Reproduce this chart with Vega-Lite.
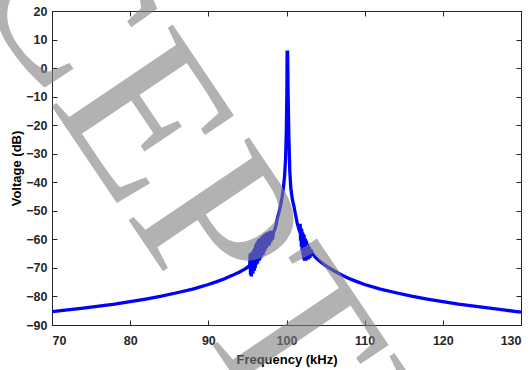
{
  "$schema": "https://vega.github.io/schema/vega-lite/v6.json",
  "width": 469,
  "height": 314,
  "autosize": {"type": "none"},
  "padding": {"left": 52, "top": 11, "right": 10, "bottom": 45},
  "background": "white",
  "config": {
    "view": {"stroke": "#262626", "strokeWidth": 1},
    "axis": {
      "labelFont": "Liberation Sans", "labelFontWeight": "bold", "labelFontSize": 12.5, "labelColor": "#262626",
      "titleFont": "Liberation Sans", "titleFontWeight": "bold", "titleFontSize": 13, "titleColor": "#000000",
      "domainColor": "#262626", "tickColor": "#262626", "tickSize": -5, "grid": false
    }
  },
  "datasets": {
    "curve": [
    {"f":70,"v":-85.3},{"f":72,"v":-84.7},{"f":74,"v":-84.1},{"f":76,"v":-83.4},{"f":78,"v":-82.7},
    {"f":80,"v":-81.8},{"f":82,"v":-80.9},{"f":84,"v":-79.9},{"f":86,"v":-78.7},{"f":88,"v":-77.4},
    {"f":90,"v":-75.8},{"f":91,"v":-74.9},{"f":92,"v":-73.9},{"f":93,"v":-72.7},{"f":94,"v":-71.4},
    {"f":94.6,"v":-70.5},{"f":95.0,"v":-69.8},{"f":95.3,"v":-69.0},
    {"f":95.35,"v":-65},{"f":95.4,"v":-72.5},{"f":95.45,"v":-66},{"f":95.5,"v":-73},{"f":95.55,"v":-64.5},
    {"f":95.6,"v":-71.5},{"f":95.65,"v":-65},{"f":95.7,"v":-72},{"f":95.75,"v":-64},{"f":95.8,"v":-70.5},
    {"f":95.85,"v":-63.5},{"f":95.9,"v":-71},{"f":95.95,"v":-63},{"f":96.0,"v":-70},{"f":96.05,"v":-62},
    {"f":96.1,"v":-69},{"f":96.15,"v":-61.5},{"f":96.2,"v":-68.5},{"f":96.25,"v":-61},{"f":96.3,"v":-68.5},
    {"f":96.35,"v":-60.5},{"f":96.4,"v":-67.5},{"f":96.45,"v":-60},{"f":96.5,"v":-67.5},{"f":96.55,"v":-60.5},
    {"f":96.6,"v":-67},{"f":96.65,"v":-59.5},{"f":96.7,"v":-66.5},{"f":96.75,"v":-60},{"f":96.8,"v":-66},
    {"f":96.85,"v":-59},{"f":96.9,"v":-65.5},{"f":96.95,"v":-59},{"f":97.0,"v":-65.5},{"f":97.05,"v":-58.5},
    {"f":97.1,"v":-64.5},{"f":97.15,"v":-58.5},{"f":97.2,"v":-64},{"f":97.25,"v":-58},{"f":97.3,"v":-63.5},
    {"f":97.35,"v":-58},{"f":97.4,"v":-63},{"f":97.5,"v":-57.5},{"f":97.6,"v":-62.5},{"f":97.7,"v":-57.5},
    {"f":97.8,"v":-62},{"f":97.9,"v":-57},{"f":98.0,"v":-61},{"f":98.1,"v":-57},{"f":98.2,"v":-60},
    {"f":98.35,"v":-57.5},{"f":98.5,"v":-56.5},{"f":98.66,"v":-55},{"f":98.8,"v":-53},
    {"f":99.0,"v":-51},{"f":99.25,"v":-48},{"f":99.45,"v":-45},{"f":99.6,"v":-42},{"f":99.75,"v":-38},
    {"f":99.88,"v":-32},{"f":99.98,"v":-22},{"f":100.05,"v":-8},{"f":100.08,"v":5.6},{"f":100.14,"v":5.6},
    {"f":100.2,"v":-8},{"f":100.3,"v":-24},{"f":100.42,"v":-36},{"f":100.55,"v":-42},{"f":100.75,"v":-46},
    {"f":100.96,"v":-48.5},{"f":101.2,"v":-52},{"f":101.38,"v":-54.4},{"f":101.6,"v":-56.5},
    {"f":101.7,"v":-57.5},{"f":101.75,"v":-54.5},{"f":101.8,"v":-60.5},{"f":101.85,"v":-56},{"f":101.9,"v":-62.5},
    {"f":101.95,"v":-56.5},{"f":102.0,"v":-64},{"f":102.05,"v":-57.5},{"f":102.1,"v":-65.5},{"f":102.15,"v":-58},
    {"f":102.2,"v":-67},{"f":102.25,"v":-58.5},{"f":102.3,"v":-67.5},{"f":102.35,"v":-59.5},{"f":102.4,"v":-66.5},
    {"f":102.45,"v":-60},{"f":102.5,"v":-67.5},{"f":102.55,"v":-60.5},{"f":102.6,"v":-66.5},{"f":102.7,"v":-61.5},
    {"f":102.8,"v":-67},{"f":102.9,"v":-62.5},{"f":103.0,"v":-66.5},{"f":103.1,"v":-63.5},{"f":103.3,"v":-64.8},
    {"f":103.6,"v":-66},{"f":104,"v":-67.1},{"f":104.5,"v":-68.2},{"f":105,"v":-69.2},{"f":106,"v":-70.9},
    {"f":107,"v":-72.4},{"f":108,"v":-73.7},{"f":109,"v":-74.8},{"f":110,"v":-75.8},{"f":112,"v":-77.4},
    {"f":114,"v":-78.7},{"f":116,"v":-79.9},{"f":118,"v":-80.9},{"f":120,"v":-81.8},{"f":122,"v":-82.7},
    {"f":124,"v":-83.4},{"f":126,"v":-84.1},{"f":128,"v":-84.8},{"f":130,"v":-85.5}
    ],
    "mark": [{"label": "watermark"}]
  },
  "resolve": {"axis": {"x": "independent", "y": "independent"}},
  "layer": [
    {
      "data": {"name": "curve"},
      "mark": {"type": "line", "color": "#0000ff", "strokeWidth": 3.3, "clip": true},
      "encoding": {
        "x": {"field": "f", "type": "quantitative", "sort": null,
              "scale": {"domain": [70, 130], "nice": false, "zero": false},
              "axis": {"title": "Frequency (kHz)", "values": [70,80,90,100,110,120,130], "labelPadding": 14, "titlePadding": 7,
                       "labelFontWeight": "bold", "labelFont": "Liberation Sans"}},
        "y": {"field": "v", "type": "quantitative",
              "scale": {"domain": [-90, 20], "nice": false, "zero": false},
              "axis": {"title": "Voltage (dB)", "values": [-90,-80,-70,-60,-50,-40,-30,-20,-10,0,10,20], "labelPadding": 10, "titlePadding": 2,
                       "labelFontWeight": "bold", "labelFont": "Liberation Sans"}}
      }
    },
    {
      "data": {"name": "curve"},
      "mark": {"type": "line", "opacity": 0},
      "encoding": {
        "x": {"field": "f", "type": "quantitative", "sort": null,
              "axis": {"orient": "top", "title": null, "labels": false, "values": [70,80,90,100,110,120,130]}},
        "y": {"field": "v", "type": "quantitative",
              "axis": {"orient": "right", "title": null, "labels": false, "values": [-90,-80,-70,-60,-50,-40,-30,-20,-10,0,10,20]}}
      }
    },
    {
      "data": {"name": "mark"},
      "mark": {"type": "text", "text": "EPTED", "align": "left", "baseline": "alphabetic", "angle": 56,
               "font": "Liberation Sans Narrow", "fontSize": 223, "color": "#808080", "opacity": 0.6},
      "encoding": {
        "x": {"datum": 69.49, "type": "quantitative", "axis": null},
        "y": {"datum": -11.5, "type": "quantitative", "axis": null}
      }
    },
    {
      "data": {"name": "mark"},
      "mark": {"type": "text", "text": "ACC", "align": "right", "baseline": "alphabetic", "angle": 56,
               "font": "Liberation Sans Narrow", "fontSize": 223, "color": "#808080", "opacity": 0.6},
      "encoding": {
        "x": {"datum": 69.49, "type": "quantitative", "axis": null},
        "y": {"datum": -11.5, "type": "quantitative", "axis": null}
      }
    }
  ]
}
